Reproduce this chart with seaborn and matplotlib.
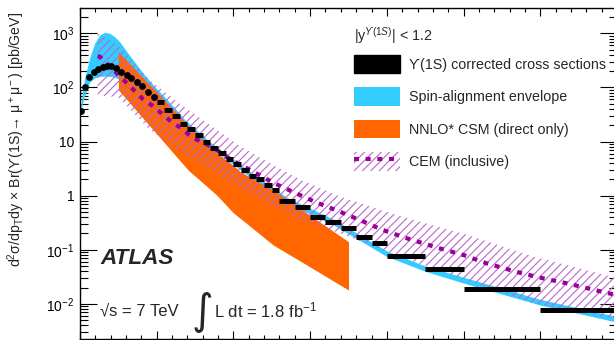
import numpy as np
import matplotlib
matplotlib.use('Agg')
import matplotlib.pyplot as plt
import seaborn as sns
from matplotlib.patches import Patch
from matplotlib.lines import Line2D
from matplotlib.ticker import MultipleLocator, LogLocator, NullFormatter

# data points at low pT (narrow bins, drawn as dots)
dot_pt = [0.17, 0.69, 1.21, 1.78, 2.35, 2.96, 3.56, 4.08, 4.69, 5.39, 6.09, 6.69, 7.43, 8.12, 8.87, 9.65]
dot_xs = [36.6, 102, 154, 190, 219, 238, 252, 245, 225, 195, 169, 147, 127, 105, 83, 67]

# wider bins (drawn as horizontal bars)
bin_lo = [10, 11, 12, 13, 14, 15, 16, 17, 18, 19, 20, 21, 22, 23, 24, 25,
          26, 28, 30, 32, 34, 36, 38, 40, 45, 50, 60]
bin_hi = [11, 12, 13, 14, 15, 16, 17, 18, 19, 20, 21, 22, 23, 24, 25, 26,
          28, 30, 32, 34, 36, 38, 40, 45, 50, 60, 70]
bin_xs = [53, 38.2, 29.2, 21.0, 16.8, 13.2, 9.9, 7.67, 6.05, 4.69, 3.84, 2.97, 2.30, 2.00, 1.57, 1.27,
          0.805, 0.624, 0.397, 0.325, 0.252, 0.174, 0.131, 0.0775, 0.0434, 0.0190, 0.0076]

# spin-alignment envelope
env_pt = [0, 0.6, 1.26, 1.91, 2.56, 3.22, 3.87, 4.52, 5.17, 6.26, 7.34, 8.44, 9.74, 11.0, 12.4, 13.7,
          17, 22, 27, 33, 40, 45, 50, 60, 70]
env_hi = [38, 149, 349, 662, 930, 1043, 1000, 865, 700, 427, 267, 169, 103, 67, 41, 25,
          9.7, 2.9, 0.92, 0.37, 0.095, 0.05, 0.031, 0.0121, 0.0058]
env_lo = [33.6, 70, 125, 150, 160, 162, 160, 155, 140, 120, 96, 71, 49, 34, 22, 15,
          7.7, 2.3, 0.72, 0.29, 0.075, 0.04, 0.0242, 0.0095, 0.0046]

# NNLO* CSM (direct only)
csm_pt = [5.0, 14.1, 15.6, 17.8, 20.0, 20.9, 25.2, 29.6, 35.0]
csm_hi = [457, 20, 12, 6.2, 3.6, 2.77, 1.27, 0.471, 0.141]
csm_lo = [90, 2.97, 1.94, 1.03, 0.48, 0.38, 0.122, 0.052, 0.018]

# CEM (inclusive): central curve and band
cem_pt = [2.3, 2.6, 6.0, 8.2, 9.35, 10.65, 11.95, 13.26, 14.56, 17.17, 19.78, 22.6, 25.2, 28.0,
          30.9, 33.9, 36.7, 39.5, 42.6, 46.9, 50.0, 53.0, 57.6, 60.4, 63.5, 68.0, 70]
cem_xs = [380, 369, 124, 61, 47, 33, 23, 17.5, 12.0, 8.0, 4.55, 2.77, 1.73, 1.13,
          0.74, 0.504, 0.343, 0.231, 0.163, 0.106, 0.0798, 0.0561, 0.0367, 0.0296, 0.0239, 0.0168, 0.0145]
cem_band_pt = [2.3, 5, 9, 13, 17, 21, 25, 29, 34, 41.7, 50.4, 59.1, 70]
cem_hi = [1000, 600, 140, 50, 20, 8, 3.8, 1.9, 0.95, 0.42, 0.19, 0.075, 0.03]
cem_lo = [72, 66, 17, 6.5, 2.97, 1.35, 0.65, 0.34, 0.2, 0.074, 0.0275, 0.0102, 0.0052]

ytick_vals = [1e-2, 1e-1, 1, 10, 1e2, 1e3]
ytick_labels = ['$10^{-2}$', '$10^{-1}$', '1', '10', '$10^{2}$', '$10^{3}$']

sns.set_style('ticks')
plt.rcParams['font.family'] = ['Liberation Sans', 'DejaVu Sans']
plt.rcParams['mathtext.fontset'] = 'custom'
plt.rcParams['mathtext.rm'] = 'Liberation Sans'
plt.rcParams['mathtext.it'] = 'Liberation Sans:italic'
plt.rcParams['mathtext.bf'] = 'Liberation Sans:bold'
plt.rcParams['hatch.linewidth'] = 0.8

cyan = '#33ccff'
orange = '#ff6600'
purple = '#990099'
hatchc = '#bb66cc'
dash = (0, (1.2, 1.6))

fig = plt.figure(figsize=(6.14, 3.40), dpi=100)
ax = fig.add_axes([80 / 614, 1 / 340, 537 / 614, 331 / 340])
ax.set_yscale('log')

ax.fill_between(env_pt, env_lo, env_hi, color=cyan, linewidth=0, zorder=1)
ax.fill_between(csm_pt, csm_lo, csm_hi, color=orange, linewidth=0, zorder=2)
ax.fill_between(cem_band_pt, cem_lo, cem_hi, facecolor='none', edgecolor=hatchc,
                hatch='////', linewidth=0, zorder=3)
sns.lineplot(x=cem_pt, y=cem_xs, ax=ax, color=purple, linewidth=3, linestyle=dash,
             sort=False, estimator=None, zorder=4)
ax.hlines(bin_xs, bin_lo, bin_hi, colors='black', linewidth=3.6, zorder=5)
sns.scatterplot(x=dot_pt, y=dot_xs, ax=ax, color='black', s=24, linewidth=0, zorder=6)

ax.set_xlim(0, 70)
ax.set_ylim(0.00224, 2940)
ax.xaxis.set_major_locator(MultipleLocator(10))
ax.xaxis.set_minor_locator(MultipleLocator(2))
ax.set_yticks(ytick_vals, ytick_labels)
ax.yaxis.set_minor_locator(LogLocator(base=10, subs=np.arange(2, 10)))
ax.yaxis.set_minor_formatter(NullFormatter())
ax.tick_params(axis='both', which='both', direction='in', top=True, right=True,
               labelbottom=False, width=0.8, colors='black')
ax.tick_params(axis='y', which='major', length=12, labelsize=10, pad=4)
ax.tick_params(axis='y', which='minor', length=6)
ax.tick_params(axis='x', which='major', length=6)
ax.tick_params(axis='x', which='minor', length=3)
for s in ax.spines.values():
    s.set_linewidth(1.0)
    s.set_color('black')

fig.text(16 / 614, 0.59, 'd$^2$σ/dp$_\\mathregular{T}$dy × Br(ϒ(1S)→ μ$^+$μ$^-$) [pb/GeV]',
         rotation=90, ha='center', va='center', fontsize=10.2)

# legend
ax.text(0.511, 0.918, '|y$^{ϒ(1S)}$| < 1.2', transform=ax.transAxes, ha='left', va='center',
        fontsize=10.3)
handles = [Patch(facecolor='black', edgecolor='black'),
           Patch(facecolor=cyan, edgecolor='none'),
           Patch(facecolor=orange, edgecolor='none'),
           (Patch(facecolor='none', edgecolor=hatchc, hatch='////', linewidth=0),
            Line2D([], [], color=purple, linewidth=3, linestyle=dash))]
labels = ['ϒ(1S) corrected cross sections', 'Spin-alignment envelope',
          'NNLO* CSM (direct only)', 'CEM (inclusive)']
ax.legend(handles, labels, loc='upper left', bbox_to_anchor=(0.511, (339 - 55) / 331),
          frameon=False, fontsize=10.3, borderpad=0, borderaxespad=0,
          handlelength=3.2, handleheight=1.6, labelspacing=0.98, handletextpad=0.65)

ax.text(0.0375, 0.242, 'ATLAS', transform=ax.transAxes, ha='left', va='center',
        fontsize=16.2, fontweight='bold', fontstyle='italic')
ax.text(0.038, 0.085, '√s = 7 TeV', transform=ax.transAxes, ha='left', va='center', fontsize=12)
ax.text(0.228, 0.082, '∫', transform=ax.transAxes, ha='center', va='center', fontsize=30,
        family='DejaVu Sans')
ax.text(0.249, 0.085, 'L dt = 1.8 fb$^{-1}$', transform=ax.transAxes, ha='left', va='center',
        fontsize=12)

fig.savefig('out.png', dpi=100)
